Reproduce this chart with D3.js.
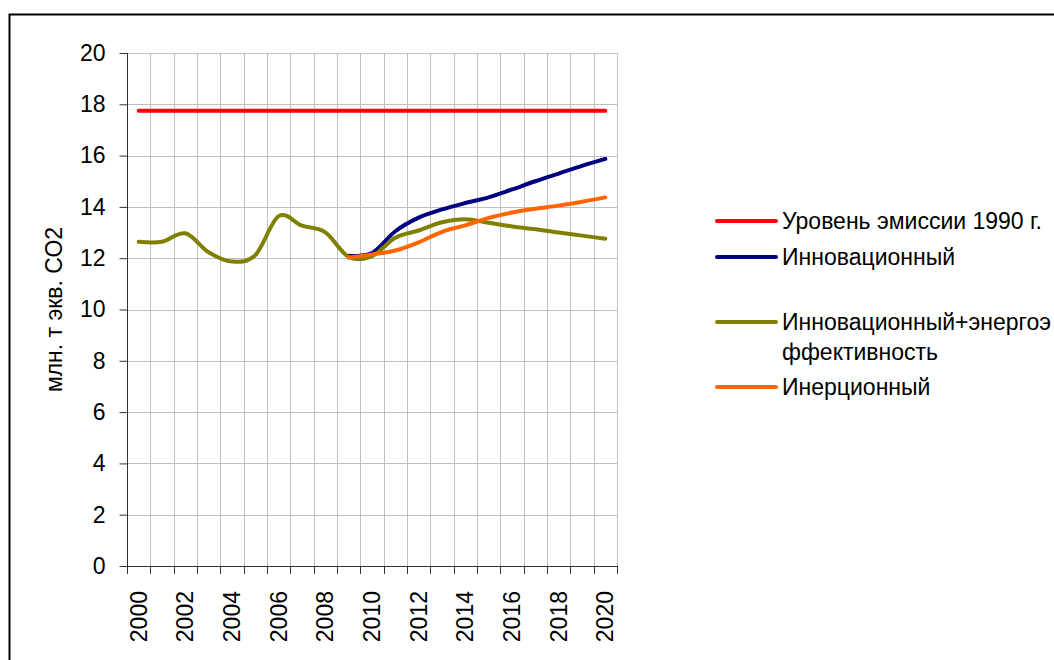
<!DOCTYPE html>
<html>
<head>
<meta charset="utf-8">
<script src="https://cdn.jsdelivr.net/npm/d3@7"></script>
<style>
html,body{margin:0;padding:0;background:#fff;overflow:hidden;}
svg{display:block;font-family:"Liberation Sans",Arial,sans-serif;}
</style>
</head>
<body>
<svg id="chart" width="1054" height="660"></svg>
<script>
const years = [2000,2001,2002,2003,2004,2005,2006,2007,2008,2009,2010,2011,2012,2013,2014,2015,2016,2017,2018,2019,2020];
const yTicks = [0,2,4,6,8,10,12,14,16,18,20];
const seriesNames = ["Уровень эмиссии 1990 г.","Инновационный","Инновационный+энергоэффективность","Инерционный"];
const level1990 = [17.75,17.75,17.75,17.75,17.75,17.75,17.75,17.75,17.75,17.75,17.75,17.75,17.75,17.75,17.75,17.75,17.75,17.75,17.75,17.75,17.75];
const innovYears = [2009,2010,2011,2012,2013,2014,2015,2016,2017,2018,2019,2020];
const innov = [12.1,12.2,13.05,13.58,13.9,14.15,14.37,14.68,15.0,15.3,15.6,15.87];
const innovEff = [12.64,12.64,12.97,12.23,11.87,12.12,13.64,13.27,13.01,12.05,12.08,12.8,13.08,13.4,13.52,13.38,13.24,13.13,13.0,12.88,12.76];
const inertYears = [2009,2010,2011,2012,2013,2014,2015,2016,2017,2018,2019,2020];
const inert = [12.02,12.15,12.3,12.62,13.03,13.28,13.57,13.78,13.93,14.05,14.2,14.37];
const colors = ["#ff0000","#000080","#808000","#ff6600"];

const svg = d3.select("#chart");
const L = 127, R = 617, T = 53, B = 566;

svg.append("rect").attr("x",9.5).attr("y",14.5).attr("width",1100).attr("height",700)
  .attr("fill","#fff").attr("stroke","#000").attr("stroke-width",2);

const x = d3.scaleBand().domain(years).range([L,R]).paddingInner(0).paddingOuter(0);
const y = d3.scaleLinear().domain([0,20]).range([B,T]);
const cx = d => x(d) + x.bandwidth()/2;

// grid
const g = svg.append("g");
g.selectAll("line.hg").data(yTicks.filter(v=>v>0)).join("line")
  .attr("x1",L).attr("x2",R).attr("y1",d=>Math.round(y(d))+0.5).attr("y2",d=>Math.round(y(d))+0.5)
  .attr("stroke","#c0c0c0").attr("stroke-width",1);
const bounds = years.map(d=>x(d)+x.bandwidth());
g.selectAll("line.vg").data(bounds).join("line")
  .attr("x1",d=>Math.round(d)+0.5).attr("x2",d=>Math.round(d)+0.5).attr("y1",T).attr("y2",B)
  .attr("stroke","#c0c0c0").attr("stroke-width",1);

// axes
const yAxis = d3.axisLeft(y).tickValues(yTicks).tickSize(8).tickPadding(14);
const ya = svg.append("g").attr("transform",`translate(${L+0.5},0)`).call(yAxis);
ya.select(".domain").attr("stroke","#333").attr("d",`M0,${T}V${B}`);
ya.selectAll(".tick line").attr("stroke","#333");
ya.selectAll("text").attr("font-size",23).attr("fill","#000").attr("font-family","Liberation Sans, Arial, sans-serif");

const xTickPos = years.map(d=>x(d)).concat([x(years[years.length-1])+x.bandwidth()]);
svg.append("line").attr("x1",L).attr("x2",R).attr("y1",B+0.5).attr("y2",B+0.5).attr("stroke","#333");
svg.selectAll("line.xt").data(xTickPos).join("line")
  .attr("x1",d=>Math.round(d)+0.5).attr("x2",d=>Math.round(d)+0.5).attr("y1",B).attr("y2",B+8)
  .attr("stroke","#333");
svg.selectAll("text.xl").data(years.filter(d=>d%2===0)).join("text")
  .attr("transform",d=>`translate(${cx(d)+8},${B+25}) rotate(-90)`)
  .attr("text-anchor","end").attr("font-size",23).attr("fill","#000").text(d=>d);

// y title
svg.append("text").attr("transform",`translate(62,${(T+B)/2}) rotate(-90)`)
  .attr("text-anchor","middle").attr("font-size",23).attr("fill","#000").text("млн. т экв. СО2");

// lines
const curve = d3.curveCardinal.tension(0);
const line = d3.line().x(d=>cx(d[0])).y(d=>y(d[1])).curve(curve);
const data = [
  years.map((d,i)=>[d,level1990[i]]),
  innovYears.map((d,i)=>[d,innov[i]]),
  years.map((d,i)=>[d,innovEff[i]]),
  inertYears.map((d,i)=>[d,inert[i]])
];
data.forEach((s,i)=>{
  svg.append("path").attr("d",line(s)).attr("fill","none").attr("stroke",colors[i])
    .attr("stroke-width",4).attr("stroke-linejoin","round").attr("stroke-linecap","round");
});

// legend
const legY = [221,257,322,387];
const lg = svg.append("g");
seriesNames.forEach((n,i)=>{
  lg.append("line").attr("x1",717).attr("x2",776).attr("y1",legY[i]).attr("y2",legY[i])
    .attr("stroke",colors[i]).attr("stroke-width",4).attr("stroke-linecap","round");
  const t = lg.append("text").attr("x",782).attr("y",legY[i]+8).attr("font-size",23).attr("fill","#000");
  if(i===2){
    t.append("tspan").attr("x",782).text("Инновационный+энергоэ");
    t.append("tspan").attr("x",782).attr("dy",30).text("ффективность");
  } else t.text(n);
});
</script>
</body>
</html>
